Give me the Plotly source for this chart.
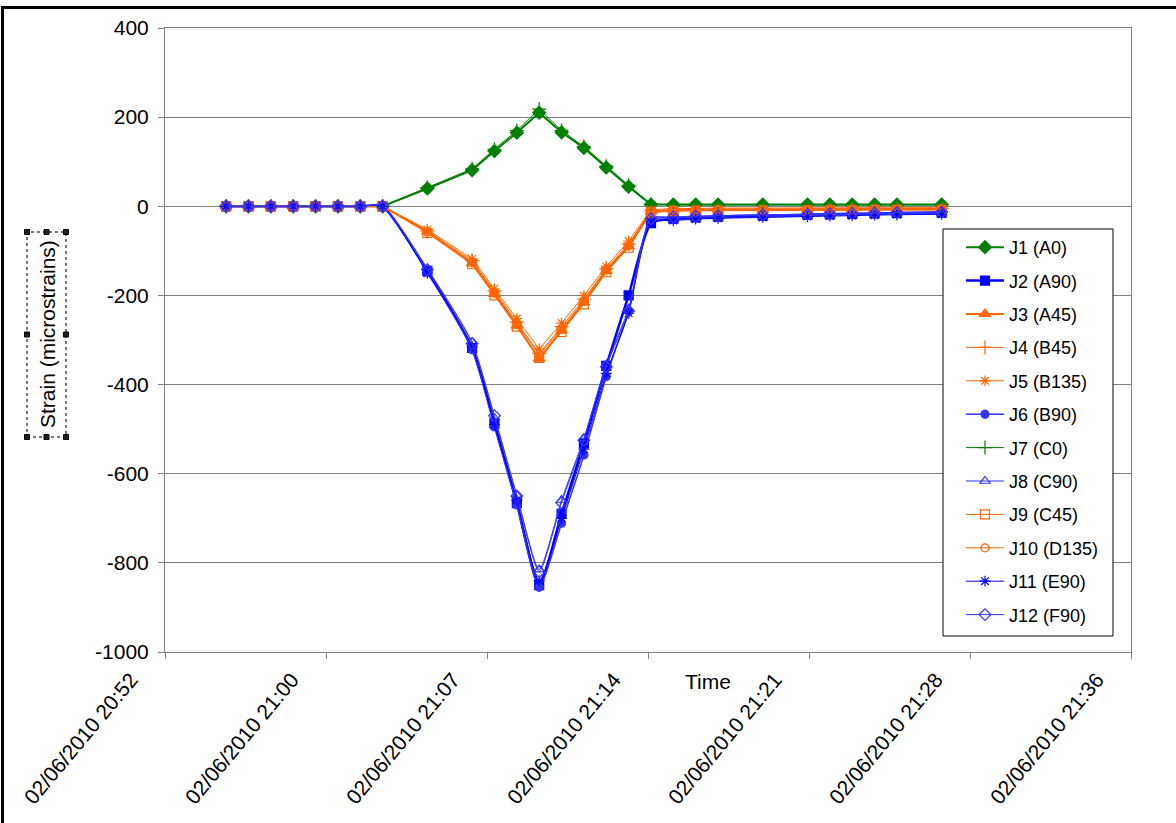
import plotly.graph_objects as go

# ---------------- data ----------------
times = [
    "2010-06-02 20:55:32", "2010-06-02 20:56:32", "2010-06-02 20:57:32", "2010-06-02 20:58:32",
    "2010-06-02 20:59:32", "2010-06-02 21:00:32", "2010-06-02 21:01:32", "2010-06-02 21:02:32",
    "2010-06-02 21:04:32", "2010-06-02 21:06:32", "2010-06-02 21:07:32", "2010-06-02 21:08:32",
    "2010-06-02 21:09:32", "2010-06-02 21:10:32", "2010-06-02 21:11:32", "2010-06-02 21:12:32",
    "2010-06-02 21:13:32", "2010-06-02 21:14:32", "2010-06-02 21:15:32", "2010-06-02 21:16:32",
    "2010-06-02 21:17:32", "2010-06-02 21:19:32", "2010-06-02 21:21:32", "2010-06-02 21:22:32",
    "2010-06-02 21:23:32", "2010-06-02 21:24:32", "2010-06-02 21:25:32", "2010-06-02 21:27:32",
]

j1_a0 = [0, 0, 0, 0, 0, 0, 0, 0, 40, 81, 124, 165, 210, 166, 131, 87, 44, 4, 4, 4, 4, 4, 4, 4, 4, 4, 4, 4]
j2_a90 = [0, 0, 0, 0, 0, 0, 0, 0, -145, -318, -487, -666, -850, -690, -532, -358, -200, -38, -28, -25, -23, -21, -19, -18, -17, -16, -15, -14]
j3_a45 = [0, 0, 0, 0, 0, 0, 0, 0, -57, -128, -197, -268, -342, -279, -216, -145, -90, -12, -9, -9, -8, -8, -8, -7, -7, -7, -7, -7]
j4_b45 = [0, 0, 0, 0, 0, 0, 0, 0, -55, -122, -190, -260, -330, -270, -208, -140, -85, -10, -7, -7, -6, -6, -6, -6, -5, -5, -5, -5]
j5_b135 = [0, 0, 0, 0, 0, 0, 0, 0, -52, -118, -185, -252, -320, -262, -200, -135, -78, -8, -5, -5, -4, -4, -4, -4, -4, -3, -3, -3]
j6_b90 = [0, 0, 0, 0, 0, 0, 0, 0, -148, -322, -495, -670, -855, -711, -558, -382, -235, -30, -26, -24, -22, -20, -19, -18, -17, -16, -15, -14]
j7_c0 = [0, 0, 0, 0, 0, 0, 0, 0, 42, 84, 128, 170, 218, 170, 134, 90, 47, 5, 3, 3, 3, 3, 3, 3, 3, 3, 3, 3]
j8_c90 = [0, 0, 0, 0, 0, 0, 0, 0, -140, -305, -475, -648, -815, -659, -520, -355, -230, -25, -30, -28, -26, -24, -22, -20, -19, -18, -17, -16]
j9_c45 = [0, 0, 0, 0, 0, 0, 0, 0, -60, -130, -200, -270, -340, -282, -220, -148, -93, -14, -11, -10, -10, -9, -9, -9, -9, -8, -8, -8]
j10_d135 = [0, 0, 0, 0, 0, 0, 0, 0, -58, -125, -193, -262, -333, -275, -212, -142, -88, -11, -8, -8, -7, -7, -7, -6, -6, -6, -6, -6]
j11_e90 = [0, 0, 0, 0, 0, 0, 0, 0, -150, -315, -490, -660, -840, -700, -545, -375, -240, -35, -32, -29, -27, -25, -23, -22, -21, -20, -19, -18]
j12_f90 = [0, 0, 0, 0, 0, 0, 0, 0, -142, -308, -470, -650, -820, -665, -525, -360, -235, -28, -24, -22, -21, -19, -18, -17, -16, -15, -14, -13]

x_tick_vals = ["2010-06-02 20:52:48", "2010-06-02 21:00:00", "2010-06-02 21:07:12",
               "2010-06-02 21:14:24", "2010-06-02 21:21:36", "2010-06-02 21:28:48",
               "2010-06-02 21:36:00"]
y_tick_vals = [400, 200, 0, -200, -400, -600, -800, -1000]
y_tick_text = [str(v) for v in y_tick_vals]

GREEN = "#008000"
BLUE = "#0000FF"
LBLUE = "#3333FF"
ORANGE = "#FF6600"

series = [
    ("J1 (A0)", j1_a0, GREEN, "diamond", 10, 2, "linear"),
    ("J2 (A90)", j2_a90, BLUE, "square", 9, 2.5, "spline"),
    ("J3 (A45)", j3_a45, ORANGE, "triangle-up", 10, 2, "linear"),
    ("J4 (B45)", j4_b45, ORANGE, "cross-thin-open", 10, 1, "linear"),
    ("J5 (B135)", j5_b135, ORANGE, "asterisk-open", 9, 1, "linear"),
    ("J6 (B90)", j6_b90, LBLUE, "circle", 8, 1.5, "spline"),
    ("J7 (C0)", j7_c0, GREEN, "cross-thin-open", 10, 1, "linear"),
    ("J8 (C90)", j8_c90, LBLUE, "triangle-up-open", 9, 1, "spline"),
    ("J9 (C45)", j9_c45, ORANGE, "square-open", 9, 1, "linear"),
    ("J10 (D135)", j10_d135, ORANGE, "circle-open", 8, 1, "linear"),
    ("J11 (E90)", j11_e90, BLUE, "asterisk-open", 9, 1, "spline"),
    ("J12 (F90)", j12_f90, LBLUE, "diamond-open", 9, 1, "spline"),
]

W, H = 1176, 823
L, R, T, B = 165, 1131, 28, 652


def px(xp):
    return (xp - L) / (R - L)


def py(yp):
    return (B - yp) / (B - T)


fig = go.Figure()
for name, vals, color, sym, size, lw, shape in series:
    fig.add_trace(go.Scatter(
        x=times, y=vals, name=name, mode="lines+markers",
        line=dict(color=color, width=lw, shape=shape, smoothing=0.6),
        marker=dict(symbol=sym, size=size, color=color,
                    line=dict(color=color, width=1.2)),
        legendgroup=name,
    ))

FONT = "Arial, Liberation Sans, sans-serif"

shapes = []
# outer black frame (left and top edges visible)
shapes.append(dict(type="rect", xref="paper", yref="paper",
                   x0=px(2.5), x1=px(1300), y0=py(900), y1=py(7.5),
                   line=dict(color="black", width=3), layer="above"))
# legend box
shapes.append(dict(type="rect", xref="paper", yref="paper",
                   x0=px(943), x1=px(1113), y0=py(636), y1=py(229),
                   line=dict(color="black", width=1), fillcolor="white", layer="above"))
# y-title selection box
bx0, bx1, by0, by1 = 27, 66, 232, 437
shapes.append(dict(type="rect", xref="paper", yref="paper",
                   x0=px(bx0), x1=px(bx1), y0=py(by1), y1=py(by0),
                   line=dict(color="#777777", width=2, dash="dot")))
handles = [(bx0, by0), ((bx0 + bx1) / 2, by0), (bx1, by0),
           (bx0, (by0 + by1) / 2), (bx1, (by0 + by1) / 2),
           (bx0, by1), ((bx0 + bx1) / 2, by1), (bx1, by1)]
for hx, hy in handles:
    shapes.append(dict(type="rect", xref="paper", yref="paper",
                       x0=px(hx - 2.5), x1=px(hx + 2.5),
                       y0=py(hy + 2.5), y1=py(hy - 2.5),
                       line=dict(color="black", width=1), fillcolor="#222222"))

annotations = [
    dict(text="Strain (microstrains)", xref="paper", yref="paper",
         x=px(47), y=py(334), textangle=-90, showarrow=False,
         font=dict(family=FONT, size=21, color="black"),
         xanchor="center", yanchor="middle"),
    dict(text="Time", xref="paper", yref="paper", x=px(708), y=py(681),
         showarrow=False, font=dict(family=FONT, size=21, color="black"),
         xanchor="center", yanchor="middle"),
]

fig.update_layout(
    width=W, height=H,
    margin=dict(l=L, r=W - R, t=T, b=H - B, pad=0),
    paper_bgcolor="white", plot_bgcolor="white",
    font=dict(family=FONT, size=20, color="black"),
    showlegend=True,
    legend=dict(x=px(961), y=py(229), xanchor="left", yanchor="top",
                borderwidth=0, bgcolor="rgba(0,0,0,0)",
                font=dict(family=FONT, size=18, color="black"),
                tracegroupgap=7, itemwidth=38),
    shapes=shapes,
    annotations=annotations,
    xaxis=dict(
        type="date",
        range=[x_tick_vals[0], x_tick_vals[-1]],
        tickmode="array", tickvals=x_tick_vals,
        tickformat="%d/%m/%Y %H:%M", tickangle=-50,
        tickfont=dict(family=FONT, size=21, color="black"),
        ticklabelshift=-34,
        ticks="outside", ticklen=6, tickcolor="#808080",
        showline=True, linecolor="#808080", linewidth=1, mirror=True,
        showgrid=False, zeroline=False,
    ),
    yaxis=dict(
        range=[-1000, 400], tickmode="array", tickvals=y_tick_vals,
        ticktext=y_tick_text,
        tickfont=dict(family=FONT, size=21, color="black"),
        ticklabelstandoff=5,
        ticks="outside", ticklen=6, tickcolor="#808080",
        showline=True, linecolor="#808080", linewidth=1, mirror=True,
        showgrid=True, gridcolor="#808080", gridwidth=1, zeroline=False,
    ),
)

fig.write_html("out.html", config={"displayModeBar": False},
               post_script="document.body.style.margin='0px';document.body.style.overflow='hidden';")
